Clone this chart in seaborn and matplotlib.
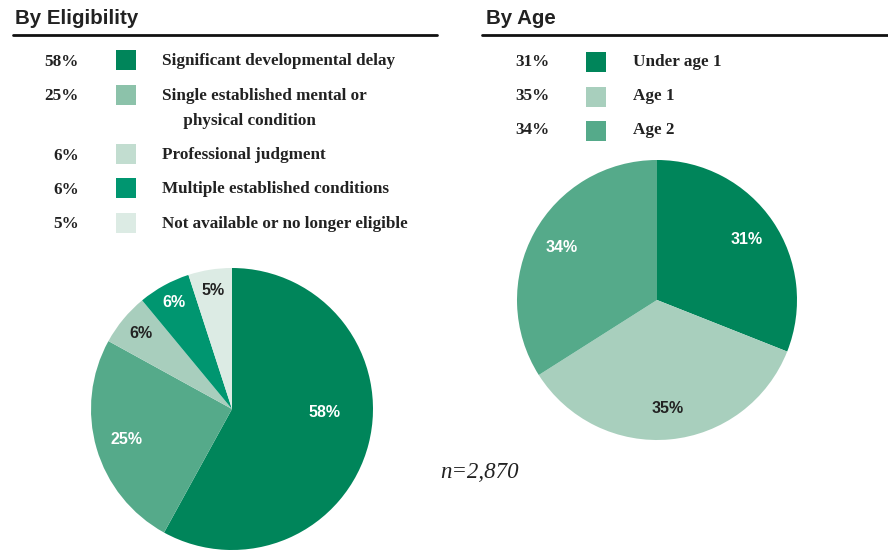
import numpy as np
import matplotlib
matplotlib.use("Agg")
import matplotlib.pyplot as plt
from matplotlib.patches import Rectangle
import seaborn as sns

# data
elig_labels = ["Significant developmental delay",
               "Single established mental or\n     physical condition",
               "Professional judgment",
               "Multiple established conditions",
               "Not available or no longer eligible"]
elig_pct = [58, 25, 6, 6, 5]
elig_colors = ["#00855A", "#55AA8A", "#A8CEBD", "#009670", "#DCEBE4"]
elig_legend_colors = ["#00855A", "#8CC2AA", "#C2DDD0", "#009670", "#DCEBE4"]
elig_text_colors = ["white", "white", "#222222", "white", "#222222"]

age_labels = ["Under age 1", "Age 1", "Age 2"]
age_pct = [31, 35, 34]
age_colors = ["#00855A", "#A8CFBD", "#55AA8A"]
age_text_colors = ["white", "#222222", "white"]

sns.set_theme(style="white")
W, H = 888, 550
fig = plt.figure(figsize=(W / 100, H / 100), dpi=100)

# overlay in pixel coords for titles / legends
ov = fig.add_axes([0, 0, 1, 1])
ov.set_xlim(0, W)
ov.set_ylim(H, 0)
ov.axis("off")

sans = "Liberation Sans"
serif = "Liberation Serif"

ov.text(15, 18, "By Eligibility", fontsize=14.8, fontweight="bold", family=sans,
        color="#222222", va="center")
ov.text(486, 18, "By Age", fontsize=14.8, fontweight="bold", family=sans,
        color="#222222", va="center")
ov.plot([13, 437], [35, 35], color="#111111", lw=2)
ov.plot([482, 888], [35, 35], color="#111111", lw=2)

# left legend
left_rows = [60, 95, 154, 188, 223]
for y, p, lab, c in zip(left_rows, elig_pct, elig_labels, elig_legend_colors):
    ov.text(79, y + 1.5, f"{p}%", ha="right", va="center", fontsize=12.3,
            fontweight="bold", family=serif, color="#222222")
    ov.add_patch(Rectangle((116, y - 10), 20, 20, color=c, lw=0))
    ov.text(162, y - 7, lab, ha="left", va="top",
            fontsize=12.3, fontweight="bold", family=serif, color="#222222",
            linespacing=1.75)

# right legend
right_rows = [60, 95, 129]
for y, p, lab, c in zip(right_rows, age_pct, age_labels, age_colors):
    ov.text(550, y + 1.5, f"{p}%", ha="right", va="center", fontsize=12.3,
            fontweight="bold", family=serif, color="#222222")
    ov.add_patch(Rectangle((586, y - 8), 20, 20, color=c, lw=0))
    ov.text(633, y + 1.5, lab, ha="left", va="center", fontsize=12.3,
            fontweight="bold", family=serif, color="#222222")

ov.text(440, 472, "n=2,870", fontsize=16.5, style="italic", family=serif,
        color="#222222", va="center")


def draw_pie(cx, cy, r, vals, colors, tcolors, dists, shifts):
    ax = fig.add_axes([(cx - r) / W, (H - cy - r) / H, 2 * r / W, 2 * r / H])
    wedges, _ = ax.pie(vals, colors=colors, startangle=90, counterclock=False,
                       wedgeprops=dict(linewidth=0))
    for w, v, tc, d, s in zip(wedges, vals, tcolors, dists, shifts):
        ang = np.deg2rad((w.theta1 + w.theta2) / 2 + s)
        ax.text(d * np.cos(ang), d * np.sin(ang), f"{v}%", ha="center",
                va="center", fontsize=11.5, fontweight="bold", family=sans,
                color=tc)
    ax.set_xlim(-1, 1)
    ax.set_ylim(-1, 1)
    ax.axis("off")


draw_pie(232, 409, 141, elig_pct, elig_colors, elig_text_colors,
         [0.66, 0.78, 0.84, 0.86, 0.85], [12, 0, 0, 0, 0])
draw_pie(657, 300, 140, age_pct, age_colors, age_text_colors,
         [0.77, 0.78, 0.78], [0, 0, 0])

fig.savefig("out.png", dpi=100)
